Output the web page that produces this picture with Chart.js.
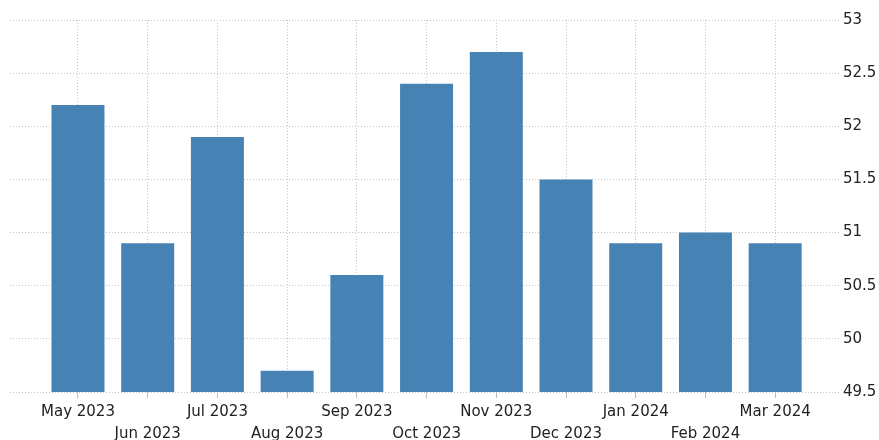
<!DOCTYPE html>
<html>
<head>
<meta charset="utf-8">
<script src="https://cdn.jsdelivr.net/npm/chart.js@4/dist/chart.umd.min.js"></script>
<style>
  html, body { margin: 0; padding: 0; background: #fff; }
  #wrap { width: 879px; height: 440px; }
</style>
</head>
<body>
<div id="wrap"><canvas id="c" width="879" height="440"></canvas></div>
<script>
// Monthly readings, May 2023 – Mar 2024
const categories = ['May 2023', 'Jun 2023', 'Jul 2023', 'Aug 2023', 'Sep 2023', 'Oct 2023',
                    'Nov 2023', 'Dec 2023', 'Jan 2024', 'Feb 2024', 'Mar 2024'];
const values = [52.2, 50.9, 51.9, 49.7, 50.6, 52.4, 52.7, 51.5, 50.9, 51.0, 50.9];
const yTicks = [49.5, 50, 50.5, 51, 51.5, 52, 52.5, 53];

const FONT = { family: 'DejaVu Sans', size: 15 };
const TEXT = '#222222';
const GRID = '#c4c4c4';

new Chart(document.getElementById('c'), {
  type: 'bar',
  data: {
    datasets: [{
      data: values.map((v, i) => ({ x: i, y: v })),
      backgroundColor: '#4682b4',
      borderWidth: 0,
      categoryPercentage: 1,
      barPercentage: 0.76
    }]
  },
  options: {
    responsive: false,
    animation: false,
    layout: { padding: { left: 10, right: 0, top: 20, bottom: 0 } },
    plugins: { legend: { display: false }, tooltip: { enabled: false } },
    scales: {
      x: {
        type: 'linear',
        offset: false,
        min: -0.975,
        max: 10.93,
        afterFit: (s) => { s.height = 48; },
        afterBuildTicks: (s) => { s.ticks = categories.map((_, i) => ({ value: i })); },
        ticks: {
          autoSkip: false,
          maxRotation: 0,
          minRotation: 0,
          includeBounds: false,
          padding: 3,
          color: TEXT,
          font: { ...FONT, lineHeight: 22 / 15 },
          callback: (v) => {
            const i = Math.round(v);
            const lab = categories[i] || '';
            return i % 2 === 0 ? [lab, ''] : ['', lab];
          }
        },
        grid: {
          offset: false,
          color: GRID,
          drawTicks: true,
          tickLength: 6,
          tickColor: '#bdbdbd',
          tickBorderDash: []
        },
        border: { display: false, dash: [1, 2] }
      },
      y: {
        position: 'right',
        min: 49.5,
        max: 53,
        afterFit: (s) => { s.width = 39; },
        afterBuildTicks: (s) => { s.ticks = yTicks.map(v => ({ value: v })); },
        ticks: {
          padding: 3,
          color: TEXT,
          font: FONT,
          callback: (v) => String(v)
        },
        grid: {
          color: GRID,
          drawTicks: false
        },
        border: { display: false, dash: [1, 2] }
      }
    }
  }
});
</script>
</body>
</html>
